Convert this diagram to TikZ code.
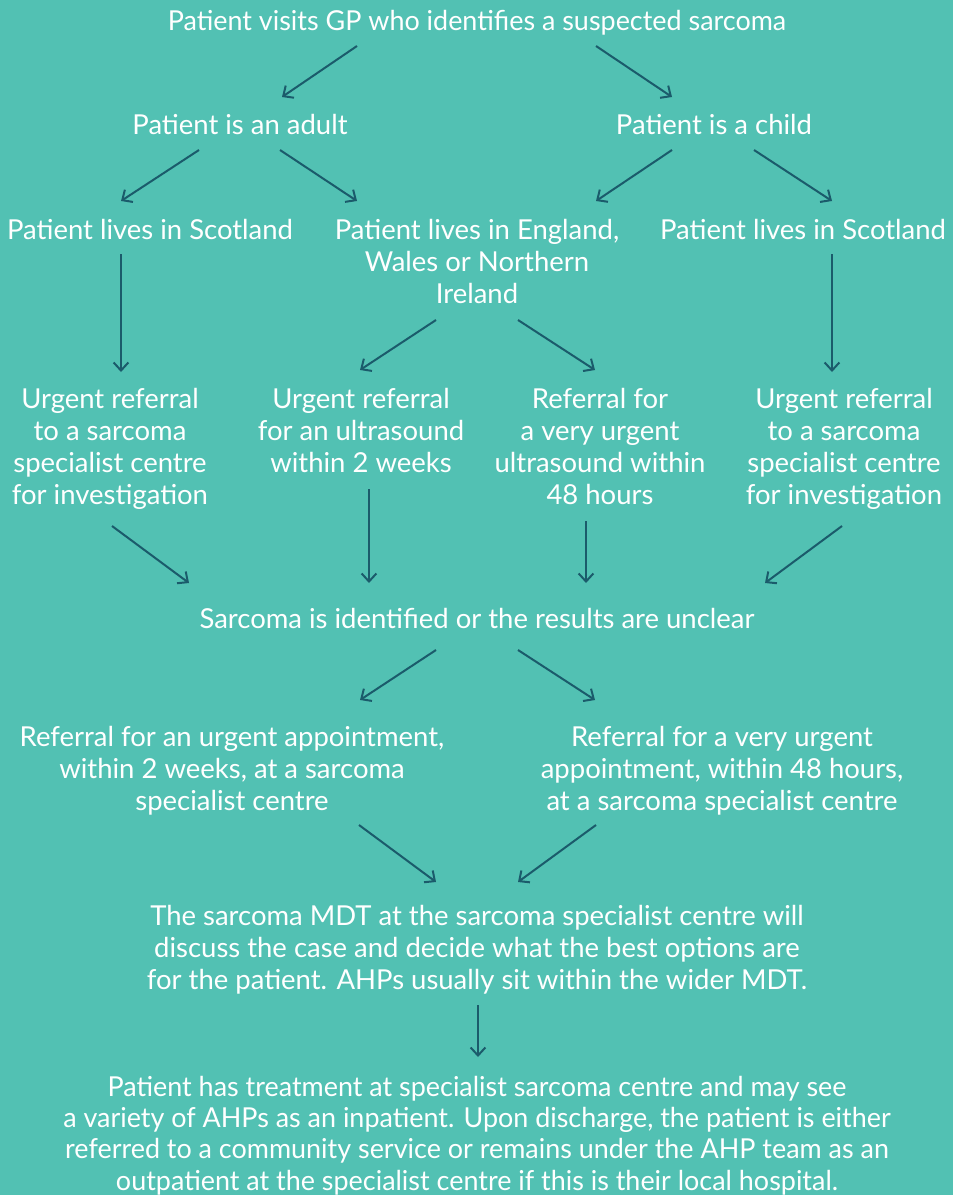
\documentclass[tikz,border=0pt]{standalone}
\usepackage{fontspec}
\setmainfont{Lato}
\newfontfamily\condfont[FakeStretch=0.98]{Lato}
\usetikzlibrary{arrows.meta}
\definecolor{bg}{HTML}{52C1B3}
\definecolor{arr}{HTML}{1B5B6B}
\tikzset{
  txt/.style={text=white, inner sep=0pt, align=center, font=\fontsize{20.6}{24}\selectfont, anchor=base},
  ctxt/.style={txt, font=\condfont\fontsize{20.6}{23.3}\selectfont},
  conn/.style={draw=arr, line width=1.5pt, -{Straight Barb[length=6pt,width=11pt,line width=1.5pt]}}
}
\begin{document}
\begin{tikzpicture}[x=0.75pt,y=-0.75pt]
\fill[bg] (0,0) rectangle (953,1195);
\useasboundingbox (0,0) rectangle (953,1195);
% texts (anchor = baseline of last line)
\node[ctxt] (gp) at (477,31) {Patient visits GP who identifies a suspected sarcoma};
\node[txt] (adult) at (240,135) {Patient is an adult};
\node[txt] (child) at (714,135) {Patient is a child};
\node[txt] (scotA) at (150,239) {Patient lives in Scotland};
\node[txt] (eng) at (477,303) {Patient lives in England,\\Wales or Northern\\Ireland};
\node[txt] (scotC) at (803,239) {Patient lives in Scotland};
\node[txt] (urgA) at (110,504) {Urgent referral\\to a sarcoma\\specialist centre\\for investigation};
\node[txt] (us2) at (361,472) {Urgent referral\\for an ultrasound\\within 2 weeks};
\node[txt] (us48) at (600,504) {Referral for\\a very urgent\\ultrasound within\\48 hours};
\node[txt] (urgC) at (844,504) {Urgent referral\\to a sarcoma\\specialist centre\\for investigation};
\node[txt] (ident) at (477,628) {Sarcoma is identified or the results are unclear};
\node[txt] (ref2) at (232,810) {Referral for an urgent appointment,\\within 2 weeks, at a sarcoma\\specialist centre};
\node[txt] (ref48) at (722,810) {Referral for a very urgent\\appointment, within 48 hours,\\at a sarcoma specialist centre};
\node[txt] (mdt) at (477,989) {The sarcoma MDT at the sarcoma specialist centre will\\discuss the case and decide what the best options are\\for the patient. AHPs usually sit within the wider MDT.};
\node[ctxt] (treat) at (477,1190) {Patient has treatment at specialist sarcoma centre and may see\\a variety of AHPs as an inpatient. Upon discharge, the patient is either\\referred to a community service or remains under the AHP team as an\\outpatient at the specialist centre if this is their local hospital.};
% connector end points
\coordinate (gpL) at (357,46);   \coordinate (adultT) at (282,97);
\coordinate (gpR) at (596,46);   \coordinate (childT) at (672,97);
\coordinate (adL) at (199,150);  \coordinate (scotAT) at (121,201);
\coordinate (adR) at (280,150);  \coordinate (engTL) at (357,201);
\coordinate (chL) at (672,150);  \coordinate (engTR) at (596,201);
\coordinate (chR) at (754,150);  \coordinate (scotCT) at (832,201);
\coordinate (scotAB) at (121,254); \coordinate (urgAT) at (121,372);
\coordinate (scotCB) at (832,254); \coordinate (urgCT) at (832,372);
\coordinate (engL) at (436,320); \coordinate (us2T) at (360,370);
\coordinate (engR) at (518,320); \coordinate (us48T) at (595,370);
\coordinate (urgAB) at (112,526); \coordinate (idA) at (189,583);
\coordinate (us2B) at (369,489); \coordinate (idB) at (369,583);
\coordinate (us48B) at (586,521); \coordinate (idC) at (586,583);
\coordinate (urgCB) at (842,526); \coordinate (idD) at (765,583);
\coordinate (idL) at (436,650); \coordinate (ref2T) at (360,700);
\coordinate (idR) at (518,650); \coordinate (ref48T) at (595,700);
\coordinate (ref2B) at (359,825); \coordinate (mdtTL) at (436,882);
\coordinate (ref48B) at (596,825); \coordinate (mdtTR) at (518,882);
\coordinate (mdtB) at (478,1005); \coordinate (treatT) at (478,1057);
% connectors
\draw[conn] (gpL) -- (adultT);
\draw[conn] (gpR) -- (childT);
\draw[conn] (adL) -- (scotAT);
\draw[conn] (adR) -- (engTL);
\draw[conn] (chL) -- (engTR);
\draw[conn] (chR) -- (scotCT);
\draw[conn] (scotAB) -- (urgAT);
\draw[conn] (scotCB) -- (urgCT);
\draw[conn] (engL) -- (us2T);
\draw[conn] (engR) -- (us48T);
\draw[conn] (urgAB) -- (idA);
\draw[conn] (us2B) -- (idB);
\draw[conn] (us48B) -- (idC);
\draw[conn] (urgCB) -- (idD);
\draw[conn] (idL) -- (ref2T);
\draw[conn] (idR) -- (ref48T);
\draw[conn] (ref2B) -- (mdtTL);
\draw[conn] (ref48B) -- (mdtTR);
\draw[conn] (mdtB) -- (treatT);
\end{tikzpicture}
\end{document}
